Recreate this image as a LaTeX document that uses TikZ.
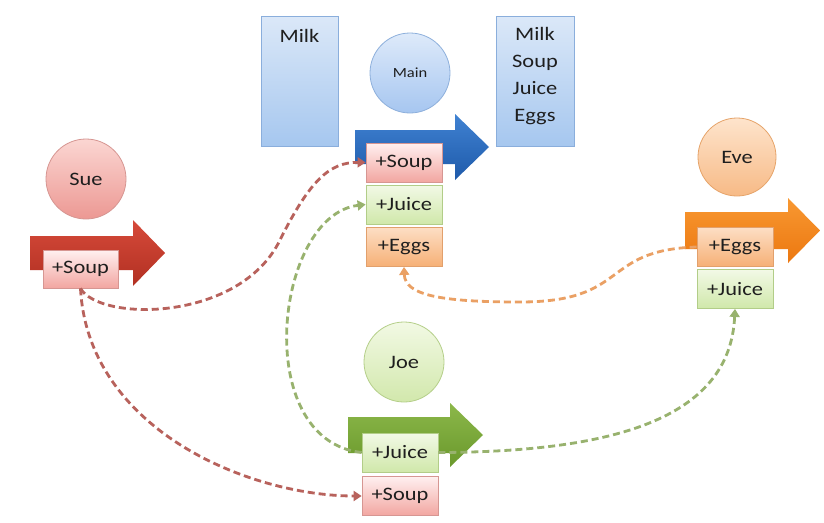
\documentclass[tikz,border=0pt]{standalone}
\usepackage{fontspec}
\setmainfont{Carlito}[FakeStretch=1.18]
\usetikzlibrary{arrows.meta,shadings}
\definecolor{txt}{HTML}{1E1E1E}
\tikzset{
  every node/.style={font=\fontsize{19}{27}\selectfont, text=txt, inner sep=0pt},
  item/.style={rectangle, minimum width=76pt, minimum height=39pt, draw, line width=0.8pt},
  soupc/.style={item, top color=red!6!white, bottom color={rgb,255:red,242;green,166;blue,161}, draw={rgb,255:red,214;green,150;blue,146}},
  juicec/.style={item, top color={rgb,255:red,242;green,249;blue,230}, bottom color={rgb,255:red,208;green,232;blue,170}, draw={rgb,255:red,178;green,205;blue,136}},
  eggsc/.style={item, top color={rgb,255:red,253;green,222;blue,196}, bottom color={rgb,255:red,246;green,176;blue,118}, draw={rgb,255:red,226;green,160;blue,108}},
  person/.style={circle, minimum size=80pt, draw, line width=0.8pt},
  listbox/.style={rectangle, draw={rgb,255:red,138;green,174;blue,220}, line width=0.8pt, top color={rgb,255:red,219;green,232;blue,248}, bottom color={rgb,255:red,166;green,199;blue,239}},
  flow/.style={dash pattern=on 7pt off 4pt, line width=2.8pt, -{Triangle[length=8pt,width=10pt]}},
}
\begin{document}
\begin{tikzpicture}[x=1pt,y=-1pt]
\useasboundingbox (0,0) rectangle (824,522);
\fill[white] (0,0) rectangle (824,522);

% list boxes
\node[listbox, minimum width=77pt, minimum height=130pt] (milkbox) at (299.5,81) {};
\node (milktxt) at (299.5,36) {Milk};
\node[listbox, minimum width=78pt, minimum height=130pt] (allbox) at (535,81) {};
\node[anchor=north, align=center] (alltxt) at (535,27) {Milk\\Soup\\Juice\\Eggs};

% people
\node[person, top color={rgb,255:red,222;green,234;blue,250}, bottom color={rgb,255:red,166;green,198;blue,240}, draw={rgb,255:red,142;green,176;blue,220}, font=\fontsize{14}{16}\selectfont] (main) at (410,73) {Main};
\node[person, top color={rgb,255:red,251;green,214;blue,210}, bottom color={rgb,255:red,236;green,152;blue,147}, draw={rgb,255:red,214;green,150;blue,146}] (sue) at (86,179) {Sue};
\node[person, minimum size=78pt, top color={rgb,255:red,254;green,228;blue,204}, bottom color={rgb,255:red,247;green,186;blue,134}, draw={rgb,255:red,230;green,164;blue,106}] (eve) at (737,157) {Eve};
\node[person, top color={rgb,255:red,242;green,249;blue,228}, bottom color={rgb,255:red,210;green,232;blue,172}, draw={rgb,255:red,181;green,207;blue,138}] (joe) at (404,362) {Joe};

% big arrows
\shade[top color={rgb,255:red,64;green,130;blue,210}, bottom color={rgb,255:red,30;green,90;blue,170}]
  (355,130) -- (455,130) -- (455,114) -- (489,147) -- (455,180) -- (455,164) -- (355,164) -- cycle;
\shade[top color={rgb,255:red,214;green,74;blue,58}, bottom color={rgb,255:red,178;green,48;blue,34}]
  (30,236) -- (133,236) -- (133,220) -- (165,253) -- (133,286) -- (133,270) -- (30,270) -- cycle;
\shade[top color={rgb,255:red,140;green,184;blue,74}, bottom color={rgb,255:red,106;green,152;blue,44}]
  (348,417) -- (450,417) -- (450,403) -- (483,435) -- (450,467) -- (450,453) -- (348,453) -- cycle;
\shade[top color={rgb,255:red,248;green,152;blue,50}, bottom color={rgb,255:red,236;green,120;blue,16}]
  (685,212) -- (788,212) -- (788,198) -- (820,230.5) -- (788,263) -- (788,249) -- (685,249) -- cycle;

% item boxes
\node[soupc] (mSoup) at (404,162.5) {+Soup};
\node[juicec] (mJuice) at (404,204.5) {+Juice};
\node[eggsc] (mEggs) at (404,247) {+Eggs};
\node[soupc, minimum width=75pt, minimum height=38pt] (sSoup) at (80.5,269) {+Soup};
\node[eggsc] (eEggs) at (735,247) {+Eggs};
\node[juicec] (eJuice) at (735,289) {+Juice};
\node[juicec] (jJuice) at (400,452.5) {+Juice};
\node[soupc] (jSoup) at (400,496) {+Soup};

% dashed flows
\definecolor{redflow}{HTML}{B8625C}
\definecolor{greenflow}{HTML}{98B26E}
\definecolor{orangeflow}{HTML}{EAA064}
\draw[flow, redflow] (sSoup.south) .. controls (100,322) and (240,322) .. (280,240)
  .. controls (310,180) and (330,162) .. (mSoup.west);
\draw[flow, redflow] (sSoup.south) .. controls (88,430) and (250,496) .. (jSoup.west);
\draw[flow, greenflow] (jJuice.west) .. controls (250,440) and (275,215) .. (mJuice.west);
\draw[flow, greenflow] (jJuice.east) .. controls (610,452) and (730,420) .. (eJuice.south);
\draw[flow, orangeflow] (eEggs.west) .. controls (600,250) and (630,302) .. (520,302)
  .. controls (440,302) and (405,295) .. (mEggs.south);
\end{tikzpicture}
\end{document}
